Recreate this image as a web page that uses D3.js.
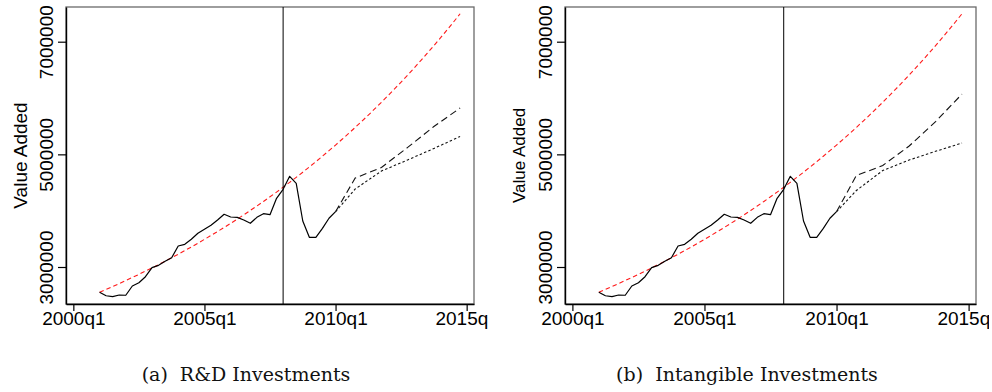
<!DOCTYPE html>
<html>
<head>
<meta charset="utf-8">
<script src="https://cdn.jsdelivr.net/npm/d3@7/dist/d3.min.js"></script>
<style>
  html, body { margin: 0; padding: 0; background: #fff; }
  svg { display: block; }
</style>
</head>
<body>
<svg id="chart" width="992" height="392"></svg>
<script>
// ---------------- data ----------------
// Quarter labels: quarter index 0 = 2000q1
const xTickLabels = ["2000q1", "2005q1", "2010q1", "2015q1"];
const yTickValues = [3000000, 5000000, 7000000];
const breakQuarter = "2008q1";

// Observed value added, 2001q1 .. 2010q1 (quarterly)
const actualStart = "2001q1";
const actualValues = [
  2551000, 2490000, 2473000, 2503000, 2498000, 2663000, 2721000, 2828000,
  2988000, 3030000, 3101000, 3165000, 3373000, 3403000, 3492000, 3598000,
  3669000, 3740000, 3834000, 3936000, 3888000, 3882000, 3834000, 3776000,
  3882000, 3946000, 3929000, 4220000, 4379000, 4610000, 4486000, 3817000,
  3527000, 3527000, 3687000, 3865000, 3982000
];

// Pre-crisis trend, 2001q1 .. 2014q4 (quarterly)
const trendStart = "2001q1";
const trendValues = [
  2551000, 2602000, 2653000, 2706000, 2759000, 2814000, 2869000, 2926000,
  2984000, 3043000, 3103000, 3165000, 3227000, 3291000, 3356000, 3423000,
  3491000, 3560000, 3630000, 3702000, 3775000, 3850000, 3926000, 4004000,
  4083000, 4164000, 4246000, 4330000, 4416000, 4503000, 4592000, 4683000,
  4776000, 4870000, 4967000, 5065000, 5165000, 5268000, 5372000, 5478000,
  5587000, 5697000, 5810000, 5925000, 6042000, 6162000, 6284000, 6408000,
  6535000, 6664000, 6796000, 6930000, 7068000, 7208000, 7350000, 7496000
];

// Scenario projections
const forecastQuarters = ["2010q1", "2010q4", "2011q4", "2012q4", "2013q4", "2014q4"];
const rdDashed      = [3982000, 4580000, 4767000, 5123000, 5494000, 5823000];
const rdDotted      = [3982000, 4385000, 4704000, 4900000, 5104000, 5317000];
const intangDashed  = [3982000, 4624000, 4802000, 5148000, 5581000, 6071000];
const intangDotted  = [3982000, 4358000, 4713000, 4900000, 5054000, 5201000];

const panelTitles = ["(a)  R&D Investments", "(b)  Intangible Investments"];
const yTitle = "Value Added";

// ---------------- helpers ----------------
function qIndex(label) {
  const m = /^(\d{4})q(\d)$/.exec(label);
  return (+m[1] - 2000) * 4 + (+m[2] - 1);
}
function seriesFrom(startLabel, values) {
  const s = qIndex(startLabel);
  return values.map((v, i) => ({ q: s + i, v }));
}
function seriesAt(labels, values) {
  return labels.map((l, i) => ({ q: qIndex(l), v: values[i] }));
}

const actual = seriesFrom(actualStart, actualValues);
const trend = seriesFrom(trendStart, trendValues);

const panels = [
  { left: 66, right: 474, clipRight: 488, titleX: 26.7, titleSize: 19,
    dashed: seriesAt(forecastQuarters, rdDashed), dotted: seriesAt(forecastQuarters, rdDotted),
    caption: panelTitles[0], captionX: 246 },
  { left: 565, right: 976, clipRight: 989, titleX: 525.3, titleSize: 17,
    dashed: seriesAt(forecastQuarters, intangDashed), dotted: seriesAt(forecastQuarters, intangDotted),
    caption: panelTitles[1], captionX: 747 }
];

const plotTop = 7, plotBottom = 304;
const svg = d3.select("#chart");
const FONT = "'Liberation Sans', Arial, Helvetica, sans-serif";

panels.forEach((p, pi) => {
  const x = d3.scaleLinear().domain([-1.12, 61.12]).range([p.left, p.right]);
  const y = d3.scaleLinear().domain([2343100, 7616100]).range([plotBottom, plotTop]);
  const g = svg.append("g");

  // frame
  g.append("rect")
    .attr("x", p.left).attr("y", plotTop)
    .attr("width", p.right - p.left).attr("height", plotBottom - plotTop)
    .attr("fill", "none").attr("stroke", "#6a6a6a").attr("stroke-width", 1.3);

  const line = d3.line().x(d => x(d.q)).y(d => y(d.v));

  // trend (red dashed)
  g.append("path").datum(trend).attr("d", line)
    .attr("fill", "none").attr("stroke", "#ff1a1a").attr("stroke-width", 1.1)
    .attr("stroke-dasharray", "4.5,3");

  // projections
  g.append("path").datum(p.dashed).attr("d", line)
    .attr("fill", "none").attr("stroke", "#111").attr("stroke-width", 1.1)
    .attr("stroke-dasharray", "7,4");
  g.append("path").datum(p.dotted).attr("d", line)
    .attr("fill", "none").attr("stroke", "#111").attr("stroke-width", 1.1)
    .attr("stroke-dasharray", "2.5,2.2");

  // actual
  g.append("path").datum(actual).attr("d", line)
    .attr("fill", "none").attr("stroke", "#000").attr("stroke-width", 1.2)
    .attr("stroke-linejoin", "round");

  // break line
  g.append("line")
    .attr("x1", x(qIndex(breakQuarter))).attr("x2", x(qIndex(breakQuarter)))
    .attr("y1", plotTop).attr("y2", plotBottom)
    .attr("stroke", "#000").attr("stroke-width", 1);

  // clip for x tick labels (the last label is cut off in the original)
  const clipId = "clipx" + pi;
  svg.append("clipPath").attr("id", clipId)
    .append("rect").attr("x", p.left - 40).attr("y", -2)
    .attr("width", p.clipRight - (p.left - 40)).attr("height", 40);

  // x axis
  const xAxis = d3.axisBottom(x)
    .tickValues(xTickLabels.map(qIndex))
    .tickFormat(d => xTickLabels[xTickLabels.map(qIndex).indexOf(d)])
    .tickSize(7).tickSizeOuter(0);
  const gx = g.append("g").attr("transform", `translate(0,${plotBottom})`)
    .attr("clip-path", `url(#${clipId})`)
    .call(xAxis);
  gx.select(".domain").attr("stroke", "#000").attr("stroke-width", 1.4);
  gx.selectAll(".tick line").attr("stroke", "#000").attr("stroke-width", 1.2);
  gx.selectAll(".tick text")
    .attr("y", 21).attr("dy", 0)
    .attr("font-family", FONT).attr("font-size", 19).attr("fill", "#000");

  // y axis
  const yAxis = d3.axisLeft(y).tickValues(yTickValues)
    .tickFormat(d3.format("d")).tickSize(8).tickSizeOuter(0);
  const gy = g.append("g").attr("transform", `translate(${p.left},0)`).call(yAxis);
  gy.select(".domain").attr("stroke", "#000").attr("stroke-width", 1.4);
  gy.selectAll(".tick line").attr("stroke", "#000").attr("stroke-width", 1.2);
  gy.selectAll(".tick text")
    .attr("x", 0).attr("y", -13).attr("dy", 0)
    .attr("transform", "rotate(-90)")
    .attr("text-anchor", "middle")
    .attr("font-family", FONT).attr("font-size", 19).attr("fill", "#000");

  // y title
  g.append("text")
    .attr("transform", `translate(${p.titleX},${(plotTop + plotBottom) / 2}) rotate(-90)`)
    .attr("text-anchor", "middle")
    .attr("font-family", FONT).attr("font-size", p.titleSize).attr("fill", "#000")
    .text(yTitle);

  // caption
  g.append("text")
    .attr("x", p.captionX).attr("y", 381)
    .attr("text-anchor", "middle")
    .attr("font-family", "'DejaVu Serif', 'Liberation Serif', serif")
    .attr("font-size", 19).attr("fill", "#111")
    .attr("xml:space", "preserve")
    .style("white-space", "pre")
    .text(p.caption);
});
</script>
</body>
</html>
